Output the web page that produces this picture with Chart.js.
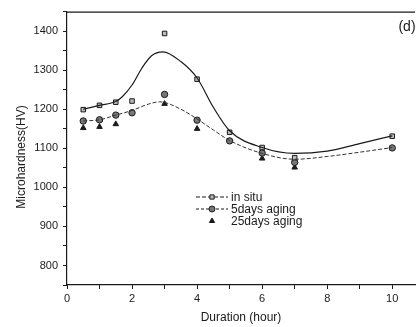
<!DOCTYPE html>
<html>
<head>
<meta charset="utf-8">
<script src="https://cdn.jsdelivr.net/npm/chart.js@4.4.1/dist/chart.umd.min.js"></script>
<style>
  html, body { margin: 0; padding: 0; background: #fff; }
  #wrap { width: 420px; height: 327px; }
</style>
</head>
<body>
<div id="wrap"><canvas id="chart" width="420" height="327"></canvas></div>
<script>
// measured points
const durations = [0.5, 1, 1.5, 2, 3, 4, 5, 6, 7, 10];
const inSitu = [1199, 1210, 1218, 1221, 1394, 1277, 1141, 1102, 1076, 1131];
const aging5 = [1170, 1173, 1185, 1191, 1238, 1172, 1119, 1088, 1064, 1101];
const aging25 = [1152, 1155, 1162, null, 1214, 1150, null, 1074, 1051, null];

// fitted curves
const fitX1 = [0.5, 1, 1.5, 1.7, 2, 2.3, 2.6, 2.95, 3.5, 4, 4.5, 5, 6, 7, 8, 9, 10];
const fitInSitu = [1200, 1210, 1220, 1232, 1262, 1305, 1337, 1347, 1322, 1280, 1205, 1145, 1102, 1087, 1093, 1112, 1132];
const fitX2 = [0.5, 1, 1.5, 2, 2.5, 2.85, 3.5, 4, 4.5, 5, 6, 7, 8, 9, 10];
const fitAging5 = [1170, 1173, 1185, 1197, 1213, 1219, 1200, 1175, 1147, 1120, 1087, 1072, 1079, 1090, 1102];

const xTicks = [0, 1, 2, 3, 4, 5, 6, 7, 8, 9, 10];
const yTicks = [750, 800, 850, 900, 950, 1000, 1050, 1100, 1150, 1200, 1250, 1300, 1350, 1400, 1450];
const legendLabels = ["in situ", "5days aging", "25days aging"];

const ink = "#1a1a1a";
const font = "'Liberation Sans', Arial, sans-serif";

const pts = (xs, ys) => xs.map((x, i) => ({ x: x, y: ys[i] }));

const legendPlugin = {
  id: "frameAndLegend",
  afterDraw(chart) {
    const ctx = chart.ctx;
    const a = chart.chartArea;
    ctx.save();
    ctx.strokeStyle = ink;
    ctx.lineWidth = 1.2;
    ctx.beginPath();
    ctx.moveTo(a.left, a.top + 0.5);
    ctx.lineTo(a.right, a.top + 0.5);
    ctx.stroke();

    ctx.fillStyle = ink;
    ctx.font = "14px " + font;
    ctx.textAlign = "center";
    ctx.textBaseline = "middle";
    ctx.fillText("(d)", 407, 27);

    // y axis title
    ctx.save();
    ctx.font = "12px " + font;
    ctx.translate(22, 157);
    ctx.rotate(-Math.PI / 2);
    ctx.fillText("Microhardness(HV)", 0, 0);
    ctx.restore();

    // legend
    const styles = [
      { ps: "rect", fill: "#bbb", dash: [4, 2] },
      { ps: "circle", fill: "#777", dash: [3, 2] },
      { ps: "triangle", fill: ink, dash: null }
    ];
    ctx.font = "12px " + font;
    ctx.textAlign = "left";
    legendLabels.forEach((lab, i) => {
      const y = 197 + i * 12;
      const s = styles[i];
      if (s.dash) {
        ctx.setLineDash(s.dash);
        ctx.lineWidth = 1;
        ctx.strokeStyle = ink;
        ctx.beginPath();
        ctx.moveTo(196, y);
        ctx.lineTo(228, y);
        ctx.stroke();
        ctx.setLineDash([]);
      }
      ctx.fillStyle = s.fill;
      ctx.strokeStyle = ink;
      ctx.lineWidth = 1;
      Chart.helpers.drawPoint(ctx, { pointStyle: s.ps, radius: 3, rotation: 0, borderWidth: 1 }, 212, y);
      ctx.fillStyle = ink;
      ctx.fillText(lab, 231, y + 1);
    });
    ctx.restore();
  }
};

new Chart(document.getElementById("chart"), {
  type: "line",
  data: {
    datasets: [
      {
        label: "in situ fit",
        data: pts(fitX1, fitInSitu),
        borderColor: ink,
        borderWidth: 1.2,
        pointRadius: 0,
        cubicInterpolationMode: "monotone",
        fill: false
      },
      {
        label: "5days fit",
        data: pts(fitX2, fitAging5),
        borderColor: "#333",
        borderWidth: 1,
        borderDash: [4, 2],
        pointRadius: 0,
        cubicInterpolationMode: "monotone",
        fill: false
      },
      {
        label: "in situ",
        data: pts(durations, inSitu),
        showLine: false,
        pointStyle: "rect",
        pointRadius: 3.2,
        pointBackgroundColor: "#bbb",
        pointBorderColor: ink,
        pointBorderWidth: 1
      },
      {
        label: "5days aging",
        data: pts(durations, aging5),
        showLine: false,
        pointStyle: "circle",
        pointRadius: 3.2,
        pointBackgroundColor: "#777",
        pointBorderColor: ink,
        pointBorderWidth: 1
      },
      {
        label: "25days aging",
        data: pts(durations, aging25),
        showLine: false,
        pointStyle: "triangle",
        pointRadius: 3.2,
        pointBackgroundColor: ink,
        pointBorderColor: ink,
        pointBorderWidth: 1
      }
    ]
  },
  options: {
    responsive: false,
    animation: false,
    layout: { padding: { top: 10, right: 0, left: 0, bottom: 0 } },
    plugins: { legend: { display: false }, tooltip: { enabled: false } },
    scales: {
      x: {
        type: "linear",
        min: 0,
        max: 10.7,
        afterBuildTicks: (s) => { s.ticks = xTicks.map(v => ({ value: v })); },
        afterFit: (s) => { s.height = 42; },
        ticks: {
          autoSkip: false,
          maxRotation: 0,
          color: ink,
          padding: 3,
          font: { family: font, size: 11 },
          callback: (v) => (v % 2 === 0 ? String(v) : "")
        },
        grid: { drawOnChartArea: false, tickLength: 4, color: ink },
        border: { color: ink, width: 1.2 },
        title: {
          display: true,
          text: "Duration (hour)",
          color: ink,
          font: { family: font, size: 12 },
          padding: { top: 0, bottom: 2 }
        }
      },
      y: {
        min: 750,
        max: 1450,
        afterBuildTicks: (s) => { s.ticks = yTicks.map(v => ({ value: v })); },
        afterFit: (s) => { s.width = 67; },
        ticks: {
          autoSkip: false,
          color: ink,
          padding: 5,
          font: { family: font, size: 11 },
          callback: (v) => (v % 100 === 0 && v >= 800 && v <= 1400 ? String(v) : "")
        },
        grid: { drawOnChartArea: false, tickLength: 4, color: ink },
        border: { color: ink, width: 1.2 }
      }
    }
  },
  plugins: [legendPlugin]
});
</script>
</body>
</html>
